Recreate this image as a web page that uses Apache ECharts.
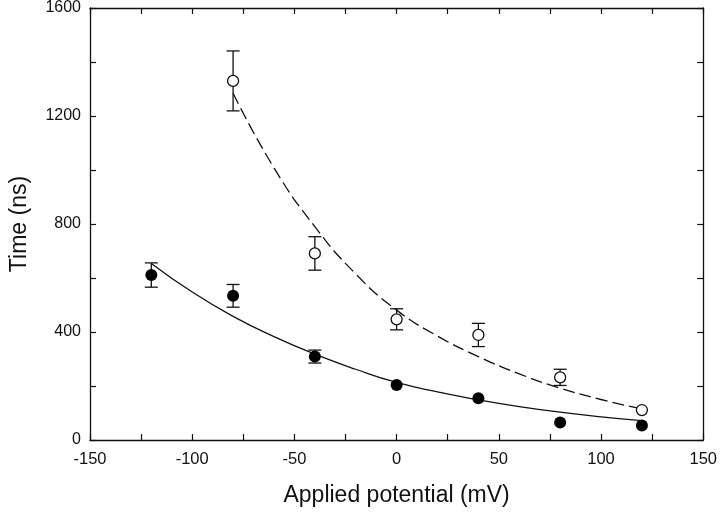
<!DOCTYPE html>
<html>
<head>
<meta charset="utf-8">
<script src="https://cdn.jsdelivr.net/npm/echarts@6/dist/echarts.min.js"></script>
<style>
html,body{margin:0;padding:0;background:#fff;}
#chart{width:720px;height:513px;}
</style>
</head>
<body>
<div id="chart"></div>
<script>
// Data
const potentials = [-120, -80, -40, 0, 40, 80, 120];
const filledTimes = [611, 534, 309, 204, 155, 65, 54];
const filledErrors = [45, 42, 24, 0, 0, 0, 0];
const openPotentials = [-80, -40, 0, 40, 80, 120];
const openTimes = [1330, 691, 447, 389, 232, 111];
const openErrors = [111, 62, 39, 43, 30, 0];
// Fitted curves
const solidFitX = [-120, -100, -80, -60, -40, -20, 0, 20, 40, 60, 80, 100, 120];
const solidFitY = [654, 548, 458, 383, 318, 262, 213, 178, 149, 124, 103, 86, 72];
const dashedFitX = [-80, -60, -40, -20, 0, 20, 40, 60, 80, 100, 120];
const dashedFitY = [1284, 1008, 790, 615, 481, 385, 309, 245, 192, 150, 115];
// Tick labels
const xTickLabels = [-150, -100, -50, 0, 50, 100, 150];
const yTickLabels = [0, 400, 800, 1200, 1600];

const FONT = '"Liberation Sans", Arial, sans-serif';
const chart = echarts.init(document.getElementById('chart'), null, {renderer: 'canvas'});

function pairs(xs, ys) { return xs.map((x, i) => [x, ys[i]]); }
function triples(xs, ys, es) { return xs.map((x, i) => [x, ys[i], es[i]]); }

function errorBarRender(params, api) {
  const x = api.value(0), y = api.value(1), e = api.value(2);
  if (!e) return null;
  const top = api.coord([x, y + e]);
  const bot = api.coord([x, y - e]);
  const hw = 6.5;
  const st = {stroke: '#111', lineWidth: 1.3};
  return {
    type: 'group',
    children: [
      {type: 'line', shape: {x1: top[0], y1: top[1], x2: bot[0], y2: bot[1]}, style: st},
      {type: 'line', shape: {x1: top[0] - hw, y1: top[1], x2: top[0] + hw, y2: top[1]}, style: st},
      {type: 'line', shape: {x1: bot[0] - hw, y1: bot[1], x2: bot[0] + hw, y2: bot[1]}, style: st}
    ]
  };
}

const axisLineStyle = {show: true, onZero: false, lineStyle: {color: '#111', width: 1.3}};
const tickStyle = {show: true, inside: true, length: 6, lineStyle: {color: '#111', width: 1.2}};

const option = {
  backgroundColor: '#fff',
  animation: false,
  grid: {left: 87, right: 15, top: 8, bottom: 73, containLabel: false},
  xAxis: [
    {
      type: 'value', min: -150, max: 150, interval: 25, position: 'bottom',
      axisLine: axisLineStyle, axisTick: tickStyle, splitLine: {show: false},
      axisLabel: {
        margin: 11, color: '#111', fontFamily: FONT, fontSize: 16.5,
        formatter: v => xTickLabels.includes(v) ? String(v) : ''
      },
      name: 'Applied potential (mV)', nameLocation: 'middle', nameGap: 44,
      nameTextStyle: {color: '#111', fontFamily: FONT, fontSize: 23}
    },
    {
      type: 'value', min: -150, max: 150, interval: 25, position: 'top',
      axisLine: axisLineStyle, axisTick: tickStyle, splitLine: {show: false},
      axisLabel: {show: false}
    }
  ],
  yAxis: [
    {
      type: 'value', min: 0, max: 1600, interval: 200, position: 'left',
      axisLine: axisLineStyle, axisTick: tickStyle, splitLine: {show: false},
      axisLabel: {
        margin: 9, color: '#111', fontFamily: FONT, fontSize: 16,
        formatter: v => yTickLabels.includes(v) ? String(v) : ''
      },
      name: 'Time (ns)', nameLocation: 'middle', nameGap: 59,
      nameTextStyle: {color: '#111', fontFamily: FONT, fontSize: 23}
    },
    {
      type: 'value', min: 0, max: 1600, interval: 200, position: 'right',
      axisLine: axisLineStyle, axisTick: tickStyle, splitLine: {show: false},
      axisLabel: {show: false}
    }
  ],
  series: [
    {
      type: 'line', name: 'fit filled', data: pairs(solidFitX, solidFitY),
      smooth: 0.5, showSymbol: false, symbol: 'none',
      lineStyle: {color: '#111', width: 1.3}, z: 2, silent: true
    },
    {
      type: 'line', name: 'fit open', data: pairs(dashedFitX, dashedFitY),
      smooth: 0.5, showSymbol: false, symbol: 'none',
      lineStyle: {color: '#111', width: 1.3, type: [12, 5]}, z: 2, silent: true
    },
    {
      type: 'custom', name: 'err filled', data: triples(potentials, filledTimes, filledErrors),
      renderItem: errorBarRender, z: 3, silent: true
    },
    {
      type: 'custom', name: 'err open', data: triples(openPotentials, openTimes, openErrors),
      renderItem: errorBarRender, z: 3, silent: true
    },
    {
      type: 'scatter', name: 'filled', data: pairs(potentials, filledTimes),
      symbol: 'circle', symbolSize: 12,
      itemStyle: {color: '#000', borderColor: '#000', borderWidth: 0, opacity: 1}, z: 4
    },
    {
      type: 'scatter', name: 'open', data: pairs(openPotentials, openTimes),
      symbol: 'circle', symbolSize: 11,
      itemStyle: {color: '#fff', borderColor: '#111', borderWidth: 1.3, opacity: 1}, z: 4
    }
  ]
};
chart.setOption(option);
</script>
</body>
</html>
